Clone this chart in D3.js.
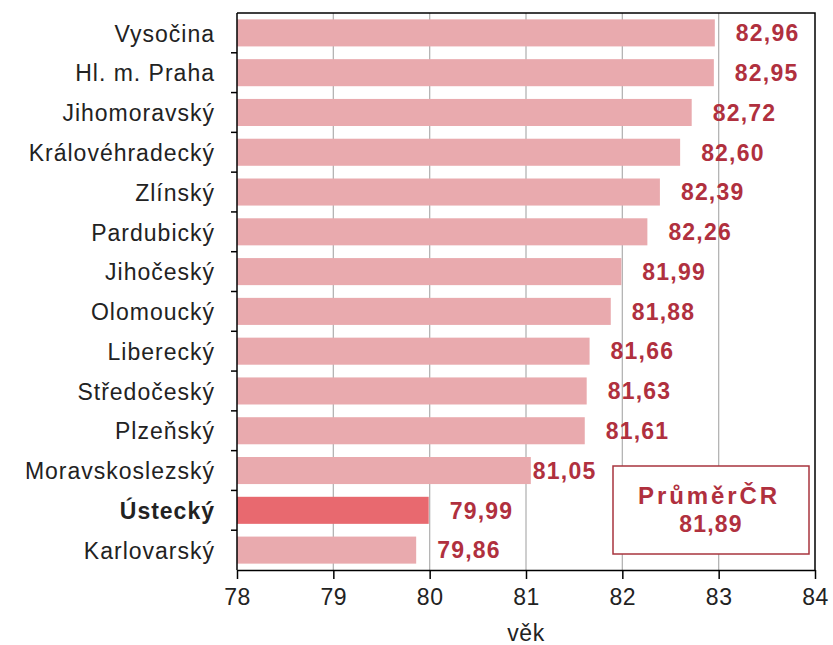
<!DOCTYPE html>
<html>
<head>
<meta charset="utf-8">
<script src="https://cdn.jsdelivr.net/npm/d3@7"></script>
<style>
	body { margin: 0; background: #fff; }
	svg { display: block; }
</style>
</head>
<body>
<div id="chart"></div>
<script>
const regions = ['Vysočina', 'Hl. m. Praha', 'Jihomoravský', 'Královéhradecký', 'Zlínský', 'Pardubický',
	'Jihočeský', 'Olomoucký', 'Liberecký', 'Středočeský', 'Plzeňský', 'Moravskoslezský', 'Ústecký', 'Karlovarský']
const values = [82.96, 82.95, 82.72, 82.60, 82.39, 82.26, 81.99, 81.88, 81.66, 81.63, 81.61, 81.05, 79.99, 79.86]
const highlighted = ['Ústecký']
const xTicks = [78, 79, 80, 81, 82, 83, 84]
const average = 81.89
const averageLabel = 'PrůměrČR'
const axisTitle = 'věk'

const width = 833
const height = 645
const margin = {top: 13, right: 18, bottom: 75, left: 237}
const font = 'Arial, "Liberation Sans", sans-serif'
const red = '#b0303e'

const svg = d3.select('#chart').append('svg')
	.attr('width', width)
	.attr('height', height)
	.style('font-family', font)

const x = d3.scaleLinear()
	.domain([78, 84])
	.range([margin.left, width - margin.right])

const y = d3.scaleBand()
	.domain(regions)
	.range([margin.top, height - margin.bottom])
	.paddingInner(0.32)
	.paddingOuter(0.16)

const fmt = v => d3.format('.2f')(v).replace('.', ',')

// gridlines
svg.append('g').selectAll('line')
	.data(xTicks.slice(1, -1))
	.enter()
	.append('line')
	.attr('x1', d => x(d)).attr('x2', d => x(d))
	.attr('y1', margin.top).attr('y2', height - margin.bottom)
	.attr('stroke', '#b4b4b4')
	.attr('stroke-width', 1.3)

// bars
svg.append('g').selectAll('rect')
	.data(regions)
	.enter()
	.append('rect')
	.attr('x', x(78))
	.attr('y', d => y(d))
	.attr('width', (d, i) => x(values[i]) - x(78))
	.attr('height', y.bandwidth())
	.attr('fill', d => highlighted.includes(d) ? '#e8696f' : '#e9aaae')

// frame top and right
svg.append('path')
	.attr('d', `M${x(78)},${margin.top}H${x(84)}V${height - margin.bottom}`)
	.attr('fill', 'none')
	.attr('stroke', '#000')
	.attr('stroke-width', 1.5)

// average box
const box = {x: 613, y: 466, w: 196, h: 88}
svg.append('rect')
	.attr('x', box.x).attr('y', box.y)
	.attr('width', box.w).attr('height', box.h)
	.attr('fill', '#fff')
	.attr('stroke', '#a8343e')
	.attr('stroke-width', 1.5)
svg.append('text')
	.attr('x', box.x + 25).attr('y', box.y + 38)
	.attr('font-size', 24).attr('font-weight', 'bold')
	.attr('textLength', 139).attr('lengthAdjust', 'spacing')
	.attr('fill', red)
	.text(averageLabel)
svg.append('text')
	.attr('x', box.x + box.w / 2).attr('y', box.y + 66)
	.attr('text-anchor', 'middle')
	.attr('font-size', 23).attr('font-weight', 'bold')
	.attr('letter-spacing', 1.2)
	.attr('fill', red)
	.text(fmt(average))

// value labels, pulled back where they would run into the box
const labels = svg.append('g').selectAll('text')
	.data(regions)
	.enter()
	.append('text')
	.attr('y', d => y(d) + y.bandwidth() / 2)
	.attr('dy', '0.36em')
	.attr('font-size', 23).attr('font-weight', 'bold')
	.attr('letter-spacing', 1.2)
	.attr('fill', red)
	.text((d, i) => fmt(values[i]))
labels.attr('x', function(d, i) {
	const w = this.getComputedTextLength()
	let px = x(values[i]) + 21
	const top = y(d), bottom = y(d) + y.bandwidth()
	if (bottom > box.y && top < box.y + box.h && px + w > box.x - 15) px = x(values[i]) + 2
	return px
})

// y axis
const yAxis = svg.append('g')
	.attr('transform', `translate(${x(78)},0)`)
yAxis.append('line')
	.attr('x1', 0).attr('x2', 0)
	.attr('y1', margin.top).attr('y2', height - margin.bottom)
	.attr('stroke', '#000').attr('stroke-width', 1.5)
yAxis.selectAll('line.tick')
	.data(regions.slice(1))
	.enter()
	.append('line')
	.attr('class', 'tick')
	.attr('x1', -6).attr('x2', 0)
	.attr('y1', d => y(d) - y.step() * y.paddingInner() / 2)
	.attr('y2', d => y(d) - y.step() * y.paddingInner() / 2)
	.attr('stroke', '#000').attr('stroke-width', 1.5)
yAxis.selectAll('text')
	.data(regions)
	.enter()
	.append('text')
	.attr('x', -22)
	.attr('y', d => y(d) + y.bandwidth() / 2)
	.attr('dy', '0.38em')
	.attr('text-anchor', 'end')
	.attr('font-size', 23)
	.attr('letter-spacing', 1)
	.attr('font-weight', d => highlighted.includes(d) ? 'bold' : 'normal')
	.attr('fill', '#222')
	.text(d => d)

// x axis
const xAxis = d3.axisBottom(x)
	.tickValues(xTicks)
	.tickSize(9)
	.tickSizeOuter(0)
	.tickFormat(d3.format('d'))
const gx = svg.append('g')
	.attr('transform', `translate(0,${height - margin.bottom})`)
	.call(xAxis)
gx.select('.domain').attr('stroke-width', 1.5)
gx.selectAll('.tick line').attr('stroke-width', 1.5)
gx.selectAll('.tick text')
	.attr('font-size', 23)
	.attr('letter-spacing', 0.5)
	.attr('font-family', font)
	.attr('fill', '#222')
	.attr('dy', '1.0em')

svg.append('text')
	.attr('x', x(81))
	.attr('y', 641)
	.attr('text-anchor', 'middle')
	.attr('font-size', 23)
	.attr('letter-spacing', 0.5)
	.attr('fill', '#222')
	.text(axisTitle)
</script>
</body>
</html>
